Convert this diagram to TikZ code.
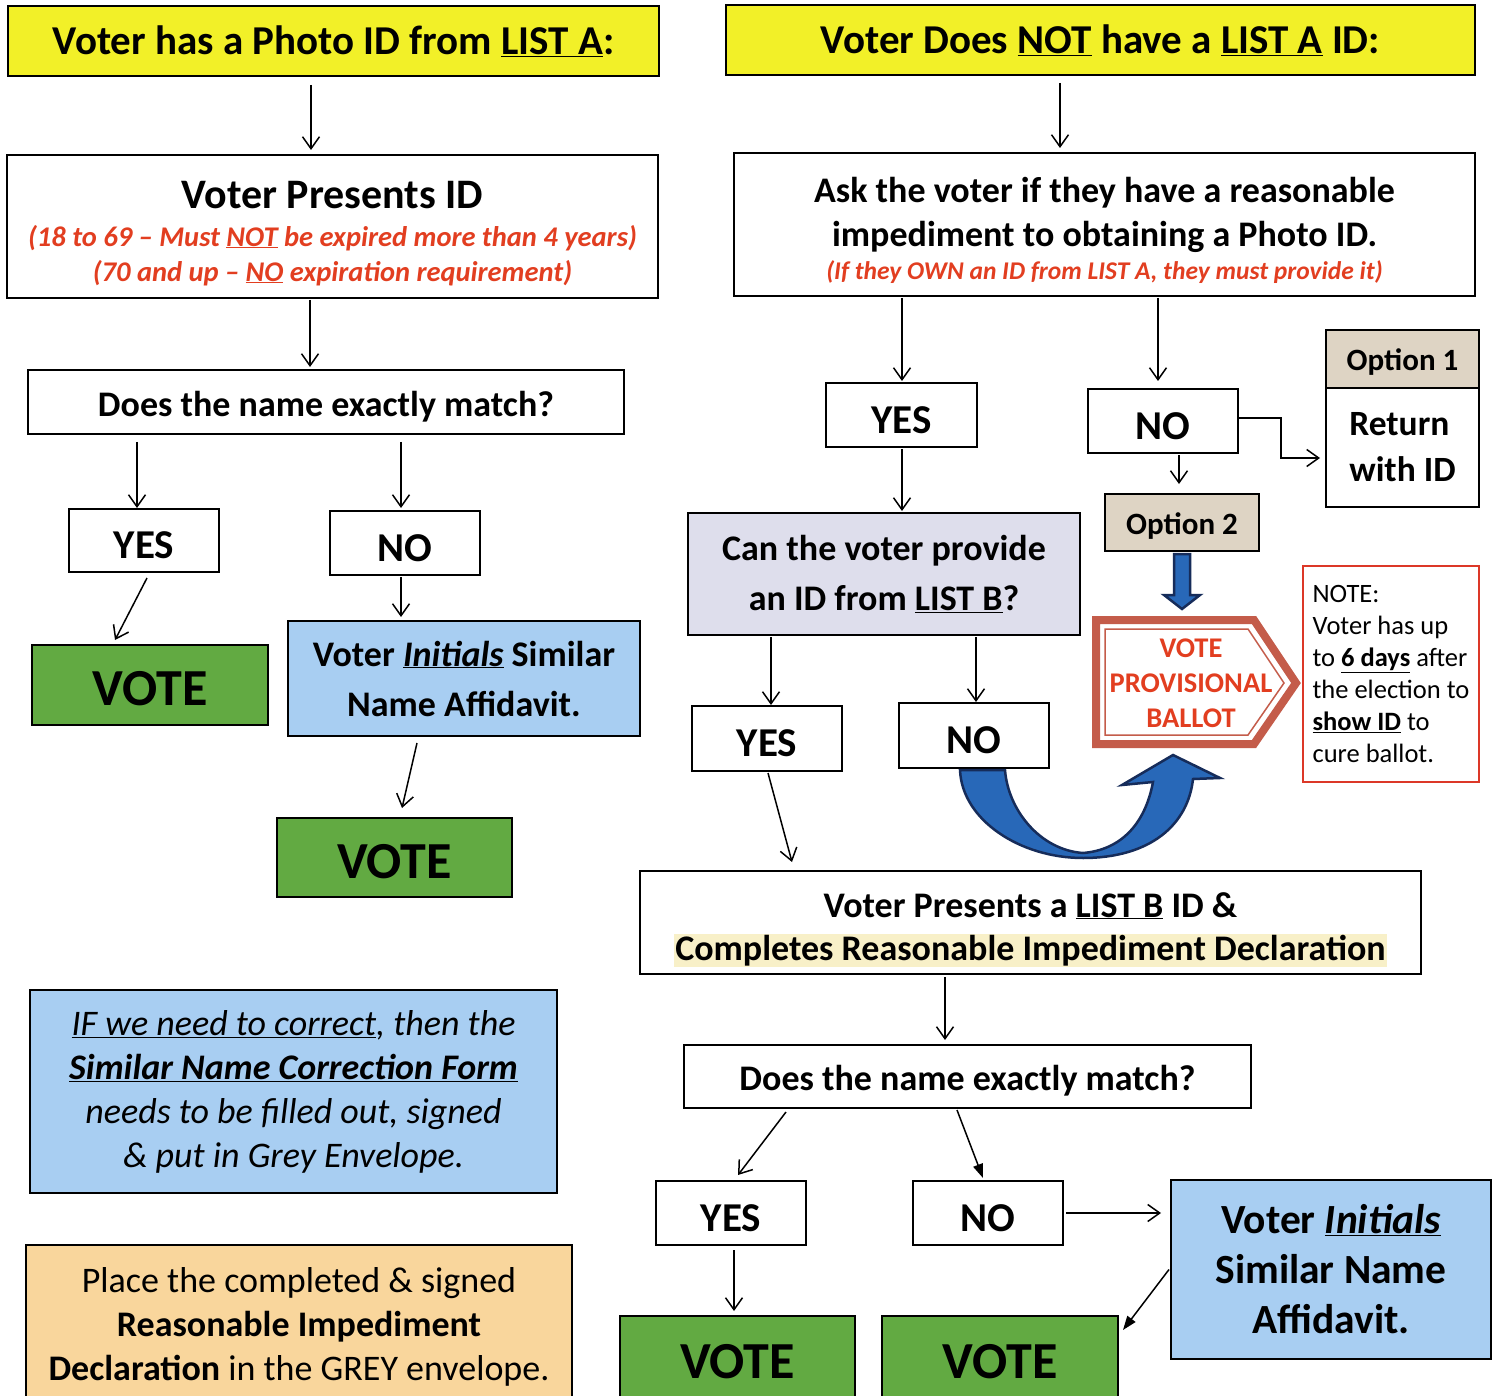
\documentclass[tikz,border=0pt]{standalone}
\usepackage{fontspec}
\setmainfont{Carlito}
\usetikzlibrary{arrows.meta,calc}
\definecolor{yellowF}{RGB}{242,240,40}
\definecolor{greenF}{RGB}{98,170,66}
\definecolor{blueF}{RGB}{168,206,242}
\definecolor{peachF}{RGB}{249,214,156}
\definecolor{tanF}{RGB}{222,212,196}
\definecolor{lavF}{RGB}{222,222,236}
\definecolor{redT}{RGB}{226,62,32}
\definecolor{balR}{RGB}{196,92,74}
\definecolor{noteR}{RGB}{220,56,40}
\definecolor{arrowblue}{RGB}{40,104,184}
\definecolor{navy}{RGB}{22,44,90}
\definecolor{hiY}{RGB}{248,240,200}
\newcommand\fsz[2]{\fontsize{#1}{#2}\selectfont}
% strut that pushes the text of a node down by #1
\newcommand\txtdown[1]{\setbox0\hbox{(}\vrule width 0pt height \dimexpr\ht0+#1+#1\relax}
\tikzset{
 box/.style={draw=black, line width=1.5pt, inner sep=0pt, outer sep=0pt, align=center, font=\bfseries},
 bf/.style 2 args={font={\bfseries\fsz{#1}{#2}}},
 dn/.style={execute at begin node={\txtdown{#1}}},
 arr/.style={draw=black, line width=1.5pt, -{Straight Barb[length=12pt,width=17pt]}},
 farr/.style={draw=black, line width=1.5pt, -{Triangle[length=14pt,width=10pt]}},
 blk/.style={draw=navy, line width=2.5pt, fill=arrowblue, line join=miter},
}
\begin{document}
\begin{tikzpicture}[x=1pt,y=-1pt]
\useasboundingbox[fill=white] (0,0) rectangle (1497,1396);

% ---------------- left column
\node[box, bf={41}{44}, fill=yellowF, minimum width=651pt, minimum height=70pt] (ya) at (333.5,41)
  {Voter has a Photo ID from \underline{LIST A}:};
\node[box, bf={42}{35}, minimum width=651pt, minimum height=143pt] (pres) at (332.5,226.5)
  {\txtdown{5pt}Voter Presents ID\\[2.5pt]
   {\color{redT}\itshape\fsz{28.5}{35}(18 to 69 – Must \underline{NOT} be expired more than 4 years)}\\
   {\color{redT}\itshape\fsz{28.5}{35}(70 and up – \underline{NO} expiration requirement)}};
\node[box, bf={36}{40}, dn=3.5pt, minimum width=596pt, minimum height=64pt] (dm1) at (326,402)
  {Does the name exactly match?};
\node[box, bf={41}{44}, dn=3pt, minimum width=150pt, minimum height=63pt] (yes1) at (144,540.5) {YES};
\node[box, bf={41}{44}, dn=3pt, minimum width=150pt, minimum height=64pt] (no1) at (405,543) {NO};
\node[box, bf={52}{56}, dn=1.5pt, fill=greenF, minimum width=236pt, minimum height=80pt] (vote1) at (150,685) {VOTE};
\node[box, bf={36}{50}, fill=blueF, minimum width=352pt, minimum height=115pt] (aff1) at (464,678.5)
  {Voter \underline{\itshape Initials} Similar\\ Name Affidavit.};
\node[box, bf={52}{56}, dn=1.5pt, fill=greenF, minimum width=235pt, minimum height=79pt] (vote2) at (394.5,857.5) {VOTE};
\node[box, font={\itshape\fsz{36}{44}}, fill=blueF, minimum width=527pt, minimum height=203pt] (note1) at (293.5,1091.5)
  {\underline{IF we need to correct}, then the\\
   \textbf{\underline{Similar Name Correction Form}}\\
   needs to be filled out, signed\\
   \& put in Grey Envelope.};
\node[box, font={\fsz{36}{44}}, fill=peachF, minimum width=546pt, minimum height=158pt, anchor=north] (place) at (299,1245)
  {\txtdown{2pt}Place the completed \& signed\\
   \textbf{Reasonable Impediment}\\
   \textbf{Declaration} in the GREY envelope.};

% ---------------- right column
\node[box, bf={41}{44}, fill=yellowF, minimum width=749pt, minimum height=70pt] (yb) at (1100.5,40)
  {Voter Does \underline{NOT} have a \underline{LIST A} ID:};
\node[box, bf={36}{44}, minimum width=741pt, minimum height=143pt] (ask) at (1104.5,224.5)
  {\txtdown{5pt}Ask the voter if they have a reasonable\\
   impediment to obtaining a Photo ID.\\[-10.5pt]
   {\color{redT}\itshape\fsz{25.5}{34}(If they OWN an ID from LIST A, they must provide it)}};
\node[box, bf={41}{44}, dn=3pt, minimum width=151pt, minimum height=64pt] (yes2) at (901.5,415) {YES};
\node[box, bf={41}{44}, dn=3pt, minimum width=150pt, minimum height=64pt] (no2) at (1163,421) {NO};
\node[box, bf={31}{34}, dn=2pt, fill=tanF, minimum width=153pt, minimum height=58pt] (opt1h) at (1402.5,359) {Option 1};
\node[box, bf={35.5}{46}, minimum width=153pt, minimum height=119pt, align=left] (opt1b) at (1402.5,447.5)
  {Return\\with ID};
\node[box, bf={31}{34}, dn=3pt, fill=tanF, minimum width=154pt, minimum height=57pt] (opt2) at (1182,522.5) {Option 2};
\node[box, bf={36}{50}, fill=lavF, minimum width=392pt, minimum height=122pt] (can) at (884,574)
  {Can the voter provide\\ an ID from \underline{LIST B}?};
\node[box, bf={41}{44}, dn=3pt, minimum width=150pt, minimum height=65pt] (yes3) at (767,738.5) {YES};
\node[box, bf={41}{44}, dn=3pt, minimum width=150pt, minimum height=65pt] (no3) at (974,735.5) {NO};

% provisional ballot pentagon
\draw[balR, line width=8pt, fill=white, line join=miter]
  (1096,620) -- (1254,620) -- (1296,683) -- (1254,744) -- (1096,744) -- cycle;
\draw[balR, line width=1.5pt]
  (1105,629) -- (1248,629) -- (1284,683) -- (1248,735) -- (1105,735) -- cycle;
\node[align=center, text=redT, font={\bfseries\fsz{28.5}{35}}, inner sep=0pt] (bal) at (1191,683)
  {VOTE\\PROVISIONAL\\BALLOT};

\node[draw=noteR, line width=2pt, font={\fsz{26.5}{32}}, minimum width=176pt, minimum height=216pt, align=left, inner sep=0pt] (noteR) at (1391,674)
  {NOTE:\\ Voter has up\\ to \textbf{\underline{6 days}} after\\ the election to\\ \textbf{\underline{show ID}} to\\ cure ballot.};

\node[box, bf={36}{43}, minimum width=781pt, minimum height=103pt] (lb) at (1030.5,922.5)
  {\txtdown{6pt}Voter Presents a \underline{LIST B} ID \&\\
   {\setlength\fboxsep{1pt}\colorbox{hiY}{Completes Reasonable Impediment Declaration}}};
\node[box, bf={36}{40}, dn=3.5pt, minimum width=567pt, minimum height=63pt] (dm2) at (967.5,1076.5)
  {Does the name exactly match?};
\node[box, bf={41}{44}, dn=3pt, minimum width=150pt, minimum height=64pt] (yes4) at (731,1213) {YES};
\node[box, bf={41}{44}, dn=3pt, minimum width=150pt, minimum height=64pt] (no4) at (988,1213) {NO};
\node[box, bf={41.5}{50}, fill=blueF, minimum width=320pt, minimum height=179pt] (aff2) at (1331,1269.5)
  {Voter \underline{\itshape Initials}\\ Similar Name\\ Affidavit.};
\node[box, bf={52}{56}, dn=1.5pt, fill=greenF, minimum width=235pt, minimum height=84pt, anchor=north] (vote3) at (737.5,1316) {VOTE};
\node[box, bf={52}{56}, dn=1.5pt, fill=greenF, minimum width=236pt, minimum height=84pt, anchor=north] (vote4) at (1000,1316) {VOTE};

% ---------------- connectors
\draw[arr, shorten <=9pt, shorten >=5pt] (311,0 |- ya.south) -- (311,0 |- pres.north);
\draw[arr, shorten <=2pt, shorten >=3pt] (310,0 |- pres.south) -- (310,0 |- dm1.north);
\draw[arr, shorten <=8pt, shorten >=1pt] (137,0 |- dm1.south) -- (137,0 |- yes1.north);
\draw[arr, shorten <=8pt, shorten >=3pt] (401,0 |- dm1.south) -- (401,0 |- no1.north);
\draw[arr] ($(yes1.south)+(3,6)$) -- ($(vote1.north)+(-35,-5)$);
\draw[arr, shorten <=2pt, shorten >=4pt] (401,0 |- no1.south) -- (401,0 |- aff1.north);
\draw[arr] ($(aff1.south)+(-47,7)$) -- ($(vote2.north)+(7.5,-10)$);

\draw[arr, shorten <=8pt, shorten >=5pt] (1060,0 |- yb.south) -- (1060,0 |- ask.north);
\draw[arr, shorten <=2pt, shorten >=2pt] (902,0 |- ask.south) -- (902,0 |- yes2.north);
\draw[arr, shorten <=2pt, shorten >=8pt] (1158,0 |- ask.south) -- (1158,0 |- no2.north);
\draw[arr, shorten >=6pt] ($(no2.east)+(0,-3)$) -- ++(43,0) |- ($(opt1b.west)+(0,10.5)$);
\draw[arr, shorten <=2pt, shorten >=10pt] (1179,0 |- no2.south) -- (1179,0 |- opt2.north);
\draw[arr, shorten <=2pt, shorten >=2pt] (902,0 |- yes2.south) -- (902,0 |- can.north);
\draw[arr, shorten <=2pt, shorten >=1pt] (771,0 |- can.south) -- (771,0 |- yes3.north);
\draw[arr, shorten <=2pt, shorten >=1pt] (976,0 |- can.south) -- (976,0 |- no3.north);
\draw[arr] ($(yes3.south)+(1,2)$) -- ($(lb.north west)+(152,-9)$);
\draw[arr, shorten <=3pt, shorten >=5pt] (945,0 |- lb.south) -- (945,0 |- dm2.north);
\draw[arr] ($(dm2.south west)+(102,4)$) -- ($(yes4.north)+(7,-6)$);
\draw[farr] ($(dm2.south west)+(273,2)$) -- ($(no4.north)+(-5,-3)$);
\draw[arr, shorten <=3pt, shorten >=10pt] (no4.east) -- (no4.east -| aff2.west);
\draw[farr] ($(aff2.west)+(-2,0)$) -- ($(vote4.north east)+(5,14)$);
\draw[arr, shorten <=5pt, shorten >=5pt] (734,0 |- yes4.south) -- (734,0 |- vote3.north);

% block arrow Option 2 -> ballot
\coordinate (o2s) at (opt2.south);
\draw[blk] ($(o2s)+(-8,3)$) -- ($(o2s)+(-8,44)$) -- ($(o2s)+(-18,44)$) -- ($(o2s)+(0,58)$)
  -- ($(o2s)+(18,44)$) -- ($(o2s)+(8,44)$) -- ($(o2s)+(8,3)$) -- cycle;

% curved block arrow NO -> ballot
\coordinate (n3s) at (no3.south);
\draw[blk] ($(n3s)+(-14,2)$) .. controls ($(n3s)+(-12,52)$) and ($(n3s)+(46,90)$) .. ($(n3s)+(109,90)$)
  .. controls ($(n3s)+(176,90)$) and ($(n3s)+(214,57)$) .. ($(n3s)+(219,11)$)
  -- ($(n3s)+(246,10)$) -- ($(n3s)+(199,-13)$) -- ($(n3s)+(148,17)$) -- ($(n3s)+(179,14)$)
  .. controls ($(n3s)+(171,57)$) and ($(n3s)+(146,82)$) .. ($(n3s)+(109,85)$)
  .. controls ($(n3s)+(66,82)$) and ($(n3s)+(34,42)$) .. ($(n3s)+(31,2)$) -- cycle;
\end{tikzpicture}
\end{document}
